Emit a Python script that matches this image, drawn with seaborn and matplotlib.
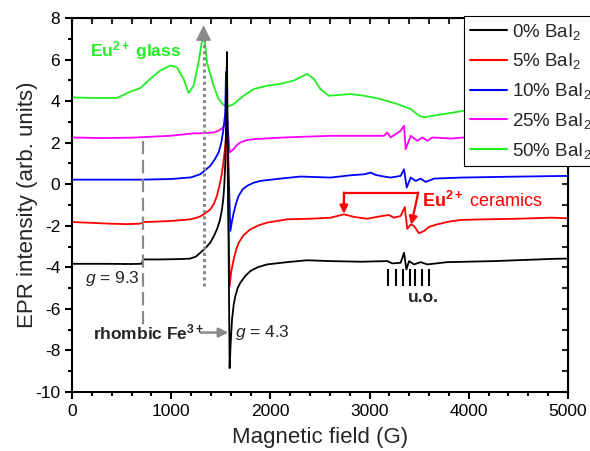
import matplotlib
matplotlib.use("Agg")
import matplotlib.pyplot as plt
import pandas as pd
import seaborn as sns
from matplotlib.ticker import MultipleLocator

sns.set_style("ticks")
plt.rcParams["font.family"] = ["Liberation Sans", "DejaVu Sans"]
plt.rcParams["mathtext.fontset"] = "custom"
plt.rcParams["mathtext.rm"] = "Liberation Sans"
plt.rcParams["mathtext.it"] = "Liberation Sans:italic"
plt.rcParams["mathtext.bf"] = "Liberation Sans:bold"
plt.rcParams["axes.unicode_minus"] = False

# ---- spectra (field in G, EPR intensity in arb. units, offset per sample) ----
samples = ["0% BaI$_2$", "5% BaI$_2$", "10% BaI$_2$", "25% BaI$_2$", "50% BaI$_2$"]
colors = ["#000000", "#ff0000", "#0000ff", "#ff00ff", "#22ee22"]

field_0 = [0, 300, 600, 700, 720, 900, 1100, 1192, 1250, 1293, 1350, 1394, 1430, 1461,
           1490, 1512, 1525, 1535, 1545, 1553, 1562, 1589, 1600, 1613, 1630, 1646, 1670,
           1697, 1750, 1798, 1870, 1966, 2168, 2371, 2606, 2909, 3179, 3229, 3313, 3347,
           3371, 3398, 3448, 3515, 3582, 3784, 4256, 4862, 5000]
epr_0 = [-3.83, -3.83, -3.84, -3.83, -3.62, -3.62, -3.60, -3.58, -3.48, -3.30, -3.05, -2.81,
         -2.50, -2.17, -1.75, -1.21, -0.70, -0.08, 1.00, 2.80, 6.36, -8.85, -7.60, -6.52,
         -5.80, -5.39, -5.00, -4.74, -4.40, -4.18, -4.00, -3.86, -3.75, -3.66, -3.70, -3.73,
         -3.70, -3.81, -3.78, -3.30, -4.10, -3.70, -3.86, -3.75, -3.86, -3.75, -3.70, -3.59,
         -3.58]

field_5 = [0, 200, 384, 550, 687, 720, 850, 990, 1100, 1192, 1250, 1293, 1350, 1394, 1430,
           1461, 1490, 1512, 1530, 1545, 1562, 1589, 1605, 1630, 1655, 1680, 1730, 1798,
           1880, 1966, 2168, 2404, 2606, 2741, 2850, 2977, 3100, 3195, 3245, 3313, 3354,
           3380, 3414, 3448, 3498, 3548, 3600, 3683, 3800, 3919, 4155, 4500, 4828, 5000]
epr_5 = [-1.82, -1.86, -1.90, -1.92, -1.90, -1.82, -1.80, -1.77, -1.73, -1.69, -1.62, -1.55,
         -1.38, -1.21, -0.95, -0.56, 0.00, 0.56, 1.20, 1.85, 2.65, -4.91, -4.20, -3.62,
         -3.15, -2.82, -2.45, -2.17, -1.98, -1.85, -1.69, -1.66, -1.61, -1.45, -1.58, -1.66,
         -1.55, -1.48, -1.61, -1.53, -1.10, -2.15, -1.93, -2.01, -2.36, -2.25, -2.05, -1.93,
         -1.80, -1.72, -1.69, -1.66, -1.61, -1.64]

field_10 = [0, 300, 700, 1000, 1200, 1293, 1394, 1440, 1478, 1505, 1522, 1535, 1545, 1552,
            1596, 1612, 1630, 1655, 1680, 1720, 1764, 1830, 1899, 2101, 2303, 2606, 2808,
            2950, 3010, 3060, 3111, 3212, 3313, 3347, 3374, 3414, 3465, 3515, 3566, 3650,
            3919, 4400, 5000]
epr_10 = [0.22, 0.22, 0.22, 0.25, 0.33, 0.48, 0.88, 1.20, 1.53, 2.00, 2.49, 3.00, 3.46, 5.40,
          -2.25, -1.80, -1.37, -0.90, -0.56, -0.25, -0.08, 0.07, 0.16, 0.27, 0.37, 0.32,
          0.43, 0.48, 0.56, 0.45, 0.40, 0.32, 0.40, 0.72, -0.16, 0.32, 0.16, 0.27, 0.11,
          0.27, 0.32, 0.36, 0.40]

field_25 = [0, 300, 600, 990, 1226, 1293, 1427, 1480, 1512, 1529, 1545, 1562, 1589, 1630,
            1660, 1697, 1760, 1832, 2134, 2606, 3145, 3179, 3212, 3313, 3347, 3364, 3414,
            3481, 3532, 3582, 3633, 3818, 3952, 4500, 5000]
epr_25 = [2.25, 2.22, 2.24, 2.33, 2.45, 2.45, 2.49, 2.58, 2.68, 2.78, 2.98, 3.30, 1.53, 1.69,
          1.88, 2.01, 2.12, 2.17, 2.25, 2.33, 2.33, 2.49, 2.25, 2.57, 2.81, 1.69, 2.33, 2.09,
          2.25, 2.09, 2.25, 2.20, 2.25, 2.30, 2.33]

field_50 = [0, 215, 451, 520, 586, 687, 788, 889, 990, 1057, 1125, 1175, 1226, 1276, 1310,
            1330, 1350, 1360, 1427, 1478, 1529, 1579, 1630, 1731, 1832, 1966, 2101, 2236,
            2371, 2438, 2505, 2589, 2700, 2808, 2943, 3111, 3279, 3414, 3498, 3548, 3683,
            3818, 3952, 4300, 5000]
epr_50 = [4.18, 4.15, 4.15, 4.30, 4.45, 4.62, 5.07, 5.47, 5.71, 5.63, 5.07, 4.39, 4.74, 5.87,
          6.90, 7.30, 6.40, 5.87, 4.74, 4.10, 3.81, 3.75, 3.86, 4.26, 4.58, 4.74, 4.83, 4.99,
          5.31, 5.07, 4.58, 4.26, 4.30, 4.34, 4.26, 4.10, 3.86, 3.62, 3.30, 3.22, 3.33, 3.43,
          3.54, 3.70, 3.90]

fields = [field_0, field_5, field_10, field_25, field_50]
intensities = [epr_0, epr_5, epr_10, epr_25, epr_50]

# annotation anchors (G / arb. units)
g93_field = 714
fe_arrow_field = (1293, 1576)
fe_label_y = -7.14
glass_arrow_field = 1326
glass_arrow_y = (-4.9, 7.65)
ceramic_tips = [(2741, -1.42), (3420, -1.95)]
ceramic_bar_y = -0.40
ceramic_bar_right = 3490
uo_lines = [3185, 3265, 3340, 3410, 3460, 3530, 3595]
uo_span = (-4.91, -4.10)

df = pd.concat(
    [pd.DataFrame({"field": f, "intensity": y, "sample": s})
     for f, y, s in zip(fields, intensities, samples)],
    ignore_index=True,
)

fig = plt.figure(figsize=(5.90, 4.51), dpi=100)
ax = fig.add_axes([72 / 590, 1 - 392 / 451, 496 / 590, 374 / 451])

# draw 50% first so the 0% trace ends on top
for s, c in reversed(list(zip(samples, colors))):
    sns.lineplot(data=df[df["sample"] == s], x="field", y="intensity", color=c,
                 lw=1.3, ax=ax, label=s, sort=False, estimator=None)

ax.set_xlim(0, 5000)
ax.set_ylim(-10, 8)
ax.xaxis.set_major_locator(MultipleLocator(1000))
ax.xaxis.set_minor_locator(MultipleLocator(200))
ax.yaxis.set_major_locator(MultipleLocator(2))
ax.yaxis.set_minor_locator(MultipleLocator(1))
ax.tick_params(which="both", direction="out", width=1.5, labelsize=12.5, colors="black")
ax.tick_params(which="major", length=5)
ax.tick_params(which="minor", length=3)
for sp in ax.spines.values():
    sp.set_linewidth(1.5)
    sp.set_color("black")

sec_x = ax.secondary_xaxis("top")
sec_x.xaxis.set_major_locator(MultipleLocator(1000))
sec_x.xaxis.set_minor_locator(MultipleLocator(200))
sec_x.tick_params(axis="x", which="both", direction="in", width=1.5, length=4,
                  labeltop=False, labelbottom=False)
sec_y = ax.secondary_yaxis("right")
sec_y.yaxis.set_major_locator(MultipleLocator(2))
sec_y.yaxis.set_minor_locator(MultipleLocator(1))
sec_y.tick_params(axis="y", which="both", direction="in", width=1.5, length=4,
                  labelright=False, labelleft=False)

ax.set_xlabel("Magnetic field (G)", fontsize=16, labelpad=6)
ax.set_ylabel("EPR intensity (arb. units)", fontsize=16, labelpad=-2)

gray = "#8a8a8a"
# g = 9.3 marker
ax.plot([g93_field, g93_field], [2.1, -6.8], color=gray, lw=1.6, ls=(0, (6, 2.5)))
ax.text(131, -4.54, "$g$ = 9.3", fontsize=12.5, va="center", ha="left")

# Eu2+ glass arrow: dotted shaft with a solid head
ax.plot([glass_arrow_field, glass_arrow_field], [glass_arrow_y[0], glass_arrow_y[1] - 0.55],
        color=gray, lw=2.2, ls=(0, (1, 1)))
ax.annotate("", xy=(glass_arrow_field, glass_arrow_y[1]),
            xytext=(glass_arrow_field, glass_arrow_y[1] - 0.7),
            arrowprops=dict(arrowstyle="-|>", color=gray, lw=1.0,
                            mutation_scale=24, shrinkA=0, shrinkB=0))
ax.text(182, 6.42, r"$\mathbf{Eu^{2+}}$ glass", fontsize=12.5, fontweight="bold",
        color="#22ee22", va="center", ha="left")

# rhombic Fe3+ arrow
ax.annotate("", xy=(fe_arrow_field[1], fe_label_y), xytext=(fe_arrow_field[0], fe_label_y),
            arrowprops=dict(arrowstyle="-|>", color=gray, lw=1.8, mutation_scale=14,
                            shrinkA=0, shrinkB=0))
ax.text(212, fe_label_y, r"$\mathbf{rhombic\ Fe^{3+}}$", fontsize=12.5,
        va="center", ha="left")
ax.text(1646, fe_label_y, "$g$ = 4.3", fontsize=12.5, va="center", ha="left")

# Eu2+ ceramics bracket
ax.plot([ceramic_tips[0][0], ceramic_tips[0][0], ceramic_bar_right],
        [ceramic_tips[0][1] + 0.3, ceramic_bar_y, ceramic_bar_y], color="red", lw=1.6)
ax.annotate("", xy=ceramic_tips[0], xytext=(ceramic_tips[0][0], ceramic_bar_y),
            arrowprops=dict(arrowstyle="-|>", color="red", lw=1.6, mutation_scale=12,
                            shrinkA=0, shrinkB=0))
ax.annotate("", xy=ceramic_tips[1], xytext=(ceramic_bar_right, ceramic_bar_y),
            arrowprops=dict(arrowstyle="-|>", color="red", lw=1.6, mutation_scale=12,
                            shrinkA=0, shrinkB=0))
ax.text(3525, -0.8, r"$\mathbf{Eu^{2+}}$ ceramics", fontsize=13, color="red",
        va="center", ha="left")

# u.o. line positions
ax.vlines(uo_lines, uo_span[0], uo_span[1], color="black", lw=1.5)
ax.text(3540, -5.46, "u.o.", fontsize=12.5, fontweight="bold", va="center", ha="center")

# legend in sample order, over the top-right corner
handles, labels = ax.get_legend_handles_labels()
order = [labels.index(s) for s in samples]
ax.get_legend().remove()
leg = fig.legend([handles[i] for i in order], [labels[i] for i in order],
                 loc="upper left", bbox_to_anchor=(464 / 590, 1 - 16 / 451),
                 fontsize=13.5, frameon=True, fancybox=False, framealpha=1,
                 edgecolor="black", handlelength=2.0, handletextpad=0.25,
                 borderpad=0.3, labelspacing=0.52, borderaxespad=0)
leg.get_frame().set_linewidth(0.8)
for line in leg.get_lines():
    line.set_linewidth(1.5)

fig.savefig("out.png", dpi=100)
